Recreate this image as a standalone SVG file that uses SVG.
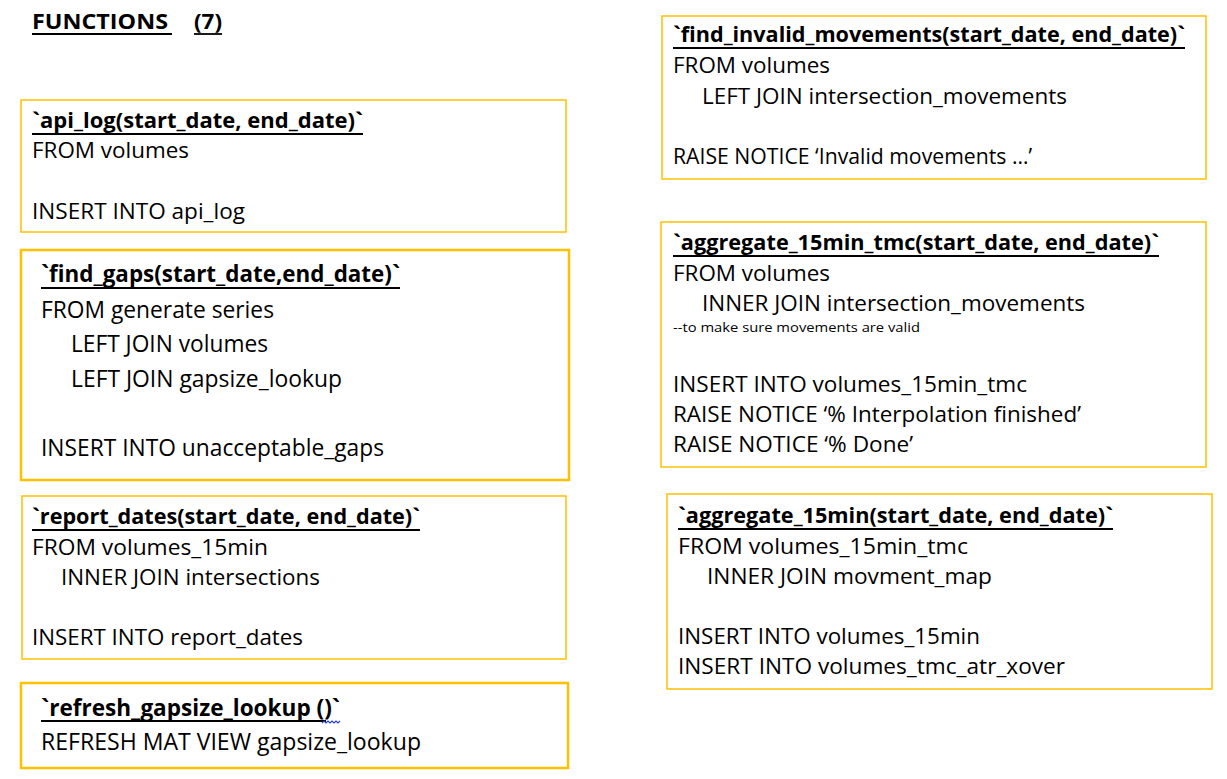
<svg xmlns="http://www.w3.org/2000/svg" width="1227" height="779" viewBox="0 0 1227 779">
<style>
.box{fill:#fff;stroke:#FFC000;stroke-width:1.5}
.thick{stroke-width:2.5}
text{font-family:"Open Sans","Noto Sans","Liberation Sans",sans-serif;fill:#000}
.t{font-size:22px}
.tl{font-size:23.5px}
.h{font-size:22px;font-weight:bold}
.hl{font-size:23px;font-weight:bold}
.s{font-size:12px}
.ul{stroke:#000;stroke-width:1.8}
</style>
<rect width="1227" height="779" fill="#fff"/>
<g id="title">
<text x="32" y="29" font-size="21" font-weight="bold" textLength="136" lengthAdjust="spacingAndGlyphs">FUNCTIONS</text>
<text x="194" y="29" font-size="21" font-weight="bold" textLength="28" lengthAdjust="spacingAndGlyphs">(7)</text>
<line class="ul" x1="32" y1="34" x2="172" y2="34"/>
<line class="ul" x1="194" y1="34" x2="222" y2="34"/>
</g>
<g id="api_log">
<rect class="box" x="21" y="100" width="545" height="132"/>
<text class="h" x="32" y="128" textLength="331" lengthAdjust="spacingAndGlyphs">`api_log(start_date, end_date)`</text>
<line class="ul" x1="32" y1="134" x2="363" y2="134"/>
<text class="t" x="32" y="158" textLength="157" lengthAdjust="spacingAndGlyphs">FROM volumes</text>
<text class="t" x="32" y="219" textLength="213" lengthAdjust="spacingAndGlyphs">INSERT INTO api_log</text>
</g>
<g id="find_gaps">
<rect class="box thick" x="21" y="250" width="548" height="230"/>
<text class="hl" x="41" y="282" textLength="359" lengthAdjust="spacingAndGlyphs">`find_gaps(start_date,end_date)`</text>
<line class="ul" x1="41" y1="288" x2="400" y2="288"/>
<text class="tl" x="41" y="318" textLength="233" lengthAdjust="spacingAndGlyphs">FROM generate series</text>
<text class="tl" x="71" y="352" textLength="197" lengthAdjust="spacingAndGlyphs">LEFT JOIN volumes</text>
<text class="tl" x="71" y="387" textLength="271" lengthAdjust="spacingAndGlyphs">LEFT JOIN gapsize_lookup</text>
<text class="tl" x="41" y="456" textLength="343" lengthAdjust="spacingAndGlyphs">INSERT INTO unacceptable_gaps</text>
</g>
<g id="report_dates">
<rect class="box" x="22" y="496" width="544" height="163"/>
<text class="h" x="32" y="524" textLength="388" lengthAdjust="spacingAndGlyphs">`report_dates(start_date, end_date)`</text>
<line class="ul" x1="32" y1="530" x2="420" y2="530"/>
<text class="t" x="32" y="555" textLength="236" lengthAdjust="spacingAndGlyphs">FROM volumes_15min</text>
<text class="t" x="61" y="585" textLength="259" lengthAdjust="spacingAndGlyphs">INNER JOIN intersections</text>
<text class="t" x="32" y="645" textLength="271" lengthAdjust="spacingAndGlyphs">INSERT INTO report_dates</text>
</g>
<g id="refresh_gapsize_lookup">
<rect class="box thick" x="21" y="683" width="547" height="85"/>
<text class="hl" x="41" y="716" textLength="299" lengthAdjust="spacingAndGlyphs">`refresh_gapsize_lookup ()`</text>
<line class="ul" x1="41" y1="721" x2="326" y2="721"/>
<path d="M322 723 l2 -2 l2 2 l2 -2 l2 2 l2 -2 l2 2 l2 -2 l2 2 l2 -2" fill="none" stroke="#2340e0" stroke-width="1.2"/>
<text class="tl" x="41" y="750" textLength="380" lengthAdjust="spacingAndGlyphs">REFRESH MAT VIEW gapsize_lookup</text>
</g>
<g id="find_invalid_movements">
<rect class="box" x="662" y="16" width="544" height="163"/>
<text class="h" x="673" y="42" textLength="512" lengthAdjust="spacingAndGlyphs">`find_invalid_movements(start_date, end_date)`</text>
<line class="ul" x1="673" y1="48" x2="1185" y2="48"/>
<text class="t" x="673" y="73" textLength="157" lengthAdjust="spacingAndGlyphs">FROM volumes</text>
<text class="t" x="702" y="104" textLength="365" lengthAdjust="spacingAndGlyphs">LEFT JOIN intersection_movements</text>
<text class="t" x="673" y="164" textLength="359" lengthAdjust="spacingAndGlyphs">RAISE NOTICE ‘Invalid movements …’</text>
</g>
<g id="aggregate_15min_tmc">
<rect class="box" x="661" y="222" width="545" height="245"/>
<text class="h" x="673" y="250" textLength="486" lengthAdjust="spacingAndGlyphs">`aggregate_15min_tmc(start_date, end_date)`</text>
<line class="ul" x1="673" y1="256" x2="1159" y2="256"/>
<text class="t" x="673" y="281" textLength="157" lengthAdjust="spacingAndGlyphs">FROM volumes</text>
<text class="t" x="702" y="311" textLength="383" lengthAdjust="spacingAndGlyphs">INNER JOIN intersection_movements</text>
<text class="s" x="673" y="332" textLength="247" lengthAdjust="spacingAndGlyphs">--to make sure movements are valid</text>
<text class="t" x="673" y="392" textLength="354" lengthAdjust="spacingAndGlyphs">INSERT INTO volumes_15min_tmc</text>
<text class="t" x="673" y="422" textLength="408" lengthAdjust="spacingAndGlyphs">RAISE NOTICE ‘% Interpolation finished’</text>
<text class="t" x="673" y="452" textLength="240" lengthAdjust="spacingAndGlyphs">RAISE NOTICE ‘% Done’</text>
</g>
<g id="aggregate_15min">
<rect class="box" x="667" y="494" width="545" height="195"/>
<text class="h" x="678" y="523" textLength="435" lengthAdjust="spacingAndGlyphs">`aggregate_15min(start_date, end_date)`</text>
<line class="ul" x1="678" y1="529" x2="1113" y2="529"/>
<text class="t" x="678" y="554" textLength="290" lengthAdjust="spacingAndGlyphs">FROM volumes_15min_tmc</text>
<text class="t" x="707" y="584" textLength="285" lengthAdjust="spacingAndGlyphs">INNER JOIN movment_map</text>
<text class="t" x="678" y="644" textLength="302" lengthAdjust="spacingAndGlyphs">INSERT INTO volumes_15min</text>
<text class="t" x="678" y="674" textLength="387" lengthAdjust="spacingAndGlyphs">INSERT INTO volumes_tmc_atr_xover</text>
</g>
<g id="connectors"></g>
</svg>
